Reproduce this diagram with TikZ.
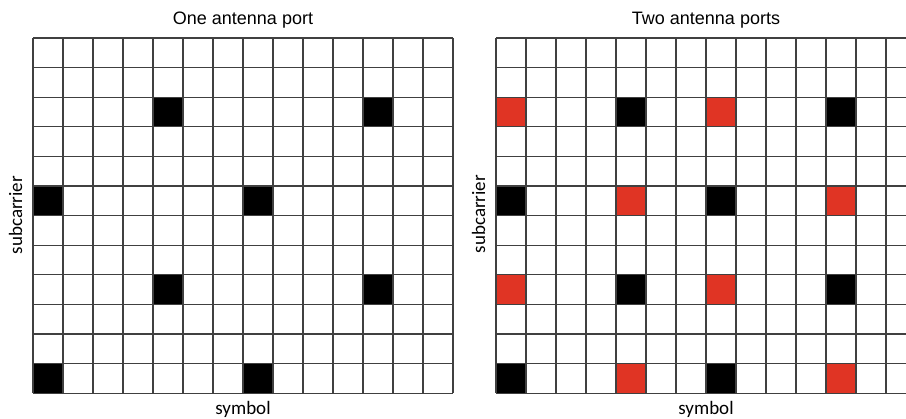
\documentclass[tikz,border=0pt]{standalone}
\usepackage{fontspec}
\setmainfont{Liberation Sans}
\newfontfamily\axisfont{Carlito}
\usetikzlibrary{positioning}
\definecolor{pilot}{HTML}{E03424}
\definecolor{gridline}{HTML}{404040}

\tikzset{
  cellgrid/.style={draw=gridline, line width=1.2pt},
  refblack/.style={fill=black},
  refred/.style={fill=pilot},
  paneltitle/.style={anchor=base, inner sep=0pt, font=\fontsize{18}{22}\selectfont},
  axislabel/.style={anchor=base, inner sep=0pt, font=\axisfont\fontsize{19}{22}\selectfont},
}

\begin{document}
\begin{tikzpicture}[x=1pt, y=-1pt]
  \useasboundingbox (0,0) rectangle (906,419);
  \begin{scope}
  \clip (0,0) rectangle (906,419);
  % one antenna port
  \foreach \r in {2,8} \foreach \c in {4,11}
    \fill[refblack] (33+\c*30, 38+\r*29.6) rectangle ++(30,29.6);
  \foreach \r in {5,11} \foreach \c in {0,7}
    \fill[refblack] (33+\c*30, 38+\r*29.6) rectangle ++(30,29.6);
  \foreach \i in {0,...,14}
    \draw[cellgrid] (33+\i*30, 38) -- ++(0,355.2);
  \foreach \j in {0,...,12}
    \draw[cellgrid] (33, 38+\j*29.6) -- ++(420,0);

  % two antenna ports
  \foreach \r in {2,8} {
    \foreach \c in {0,7}
      \fill[refred] (496+\c*30, 38+\r*29.6) rectangle ++(30,29.6);
    \foreach \c in {4,11}
      \fill[refblack] (496+\c*30, 38+\r*29.6) rectangle ++(30,29.6);
  }
  \foreach \r in {5,11} {
    \foreach \c in {0,7}
      \fill[refblack] (496+\c*30, 38+\r*29.6) rectangle ++(30,29.6);
    \foreach \c in {4,11}
      \fill[refred] (496+\c*30, 38+\r*29.6) rectangle ++(30,29.6);
  }
  \foreach \i in {0,...,14}
    \draw[cellgrid] (496+\i*30, 38) -- ++(0,355.2);
  \foreach \j in {0,...,12}
    \draw[cellgrid] (496, 38+\j*29.6) -- ++(420,0);
  \end{scope}

  % labels
  \node[paneltitle] (titleone) at (243,25) {One antenna port};
  \node[paneltitle] (titletwo) at (706,25) {Two antenna ports};
  \node[axislabel] (symbolone) at (243,415) {symbol};
  \node[axislabel] (symboltwo) at (706,415) {symbol};
  \node[axislabel, rotate=90] (subone) at (22,215) {subcarrier};
  \node[axislabel, rotate=90] (subtwo) at (485,214) {subcarrier};
\end{tikzpicture}
\end{document}
